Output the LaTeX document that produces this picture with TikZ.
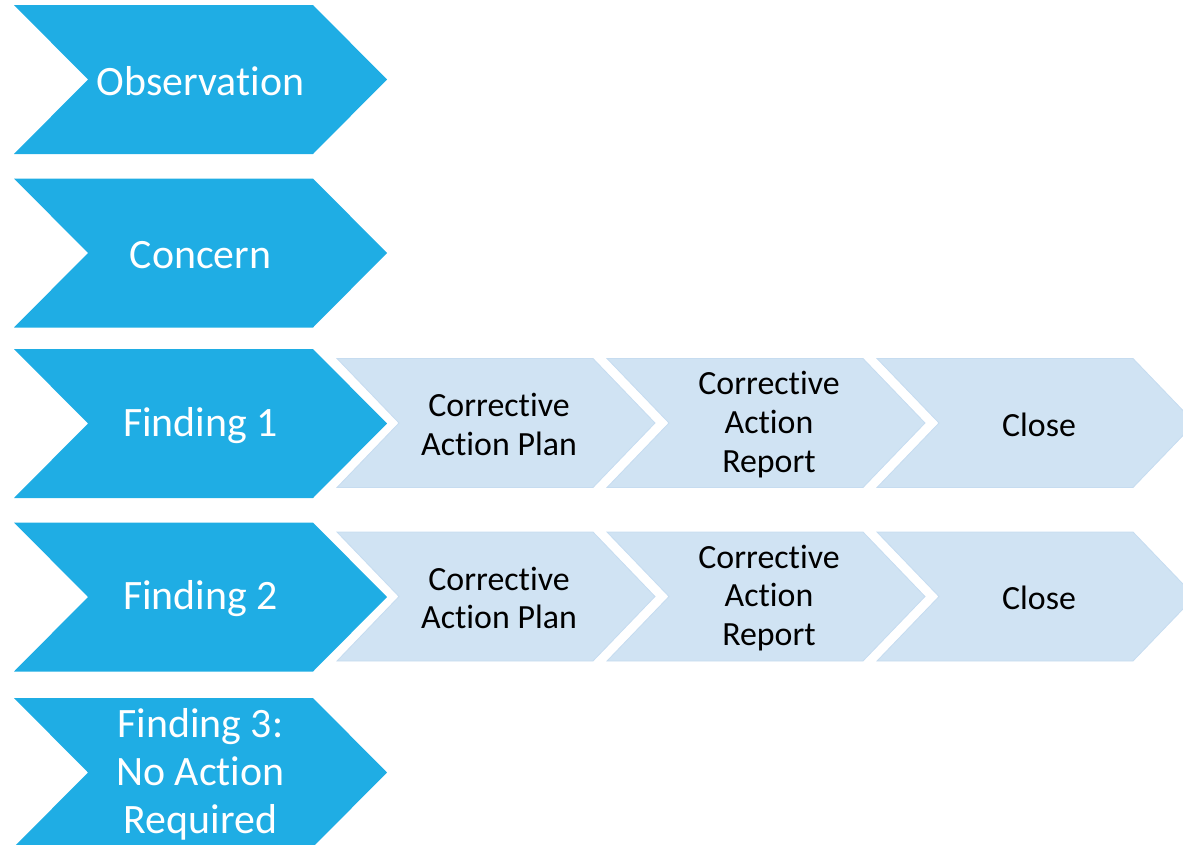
\documentclass[tikz,border=0pt]{standalone}
\usepackage{fontspec}
\setmainfont{Carlito}[Ligatures={NoCommon}]
\definecolor{bigblue}{HTML}{1FADE4}
\definecolor{lightblue}{HTML}{D0E3F3}
\definecolor{lightedge}{HTML}{C6DCF0}
\tikzset{
  bigtext/.style={text=white, font=\fontsize{42}{48}\selectfont, align=center, inner sep=0pt},
  smalltext/.style={text=black, font=\fontsize{34}{39}\selectfont, align=center, inner sep=0pt},
  bigshape/.style={fill=bigblue},
  smallshape/.style={fill=lightblue, draw=lightedge, line width=0.8bp},
}
\newcommand\bigchev[3]{%
  \path[bigshape] (14,#2-74.5) -- (313,#2-74.5) -- (387,#2) -- (313,#2+74.5) -- (14,#2+74.5) -- (88,#2) -- cycle;
  \node[bigtext] (#1) at (200.5,#2+2) {#3};}
\newcommand\smallchev[4]{% name, left x, center y, text
  \path[smallshape] (#2,#3-64.5) -- (#2+256,#3-64.5) -- (#2+318,#3) -- (#2+256,#3+64.5) -- (#2,#3+64.5) -- (#2+62,#3) -- cycle;
  \node[smalltext] (#1) at (#2+162,#3+1.5) {#4};}
\begin{document}
\begin{tikzpicture}[x=1bp,y=-1bp]
\useasboundingbox (0,0) rectangle (1183,845);
\clip (0,0) rectangle (1183,845);
\bigchev{obs}{79.5}{Observation}
\bigchev{con}{253}{Concern}
\bigchev{f1}{423.5}{Finding 1}
\bigchev{f2}{597}{Finding 2}
\bigchev{f3}{772.5}{Finding 3:\\No Action\\Required}
\smallchev{p1}{337}{423}{Corrective\\Action Plan}
\smallchev{r1}{607}{423}{Corrective\\Action\\Report}
\smallchev{c1}{877}{423}{Close}
\smallchev{p2}{337}{596.5}{Corrective\\Action Plan}
\smallchev{r2}{607}{596.5}{Corrective\\Action\\Report}
\smallchev{c2}{877}{596.5}{Close}
\end{tikzpicture}
\end{document}
